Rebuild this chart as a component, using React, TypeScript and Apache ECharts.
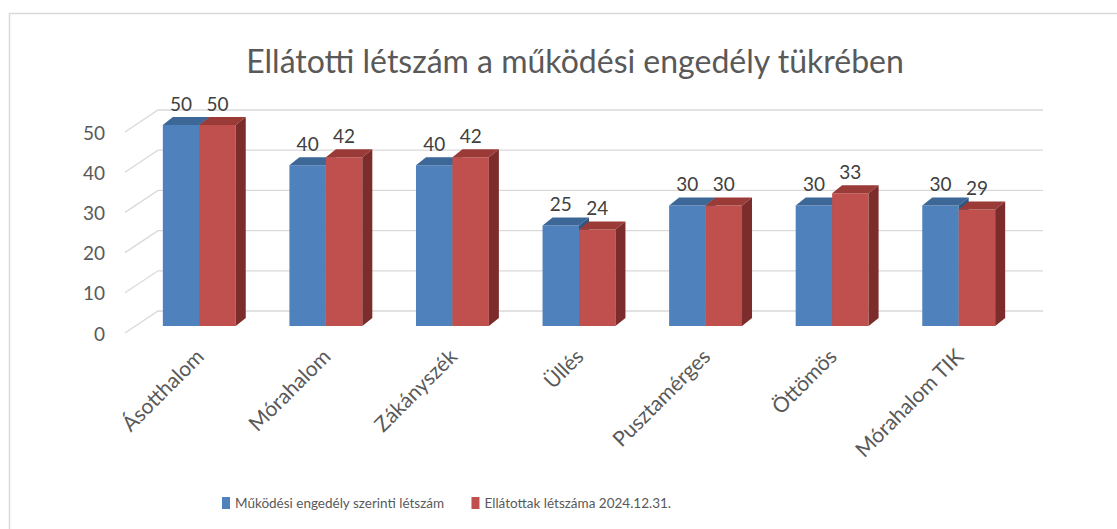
import React, { useEffect, useRef } from "react";
import * as echarts from "echarts";

const categories = ["Ásotthalom", "Mórahalom", "Zákányszék", "Üllés", "Pusztamérges", "Öttömös", "Mórahalom TIK"];
const engedely = [50, 40, 40, 25, 30, 30, 30];
const ellatottak = [50, 42, 42, 24, 30, 33, 29];
const yTicks = [0, 10, 20, 30, 40, 50];
const seriesNames = ["Működési engedély szerinti létszám", "Ellátottak létszáma 2024.12.31."];
const titleText = "Ellátotti létszám a működési engedély tükrében";

const FONT = "Lato, sans-serif";

function barRenderer(side: number, front: string, top: string, sideCol: string) {
  return (params: any, api: any) => {
    const cat = api.value(0);
    const v = api.value(1);
    const pTop = api.coord([cat, v]);
    const pBase = api.coord([cat, 0]);
    const band = api.size([1, 0])[0];
    const bw = band * 0.288;
    const x0 = side === 0 ? pTop[0] - bw : pTop[0];
    const x1 = x0 + bw;
    const yt = pTop[1] - 7;
    const yb = pBase[1] - 7;
    const dx = 10;
    const dy = 8;
    return {
      type: "group",
      children: [
        { type: "rect", shape: { x: x0, y: yt, width: bw, height: yb - yt }, style: { fill: front } },
        {
          type: "polygon",
          shape: { points: [[x0, yt], [x0 + dx, yt - dy], [x1 + dx, yt - dy], [x1, yt]] },
          style: { fill: top },
        },
        {
          type: "polygon",
          shape: { points: [[x1, yt], [x1 + dx, yt - dy], [x1 + dx, yb - dy], [x1, yb]] },
          style: { fill: sideCol },
        },
        {
          type: "text",
          x: (x0 + x1) / 2,
          y: yt - 22,
          style: {
            text: String(v),
            align: "center",
            verticalAlign: "middle",
            fill: "#404040",
            fontSize: 19,
            fontFamily: FONT,
          },
        },
      ],
    };
  };
}

function gridRenderer(params: any, api: any) {
  const cs = params.coordSys;
  const v = api.value(1);
  const p = api.coord([0, v]);
  const y = p[1];
  return {
    type: "polyline",
    shape: { points: [[cs.x - 11, y], [cs.x + 22, y - 22], [1043, y - 22]] },
    style: { stroke: "#d9d9d9", lineWidth: 1.3, fill: "none" },
    silent: true,
  };
}

export default function App() {
  const ref = useRef<HTMLDivElement>(null);
  useEffect(() => {
    document.body.style.margin = "0";
    const chart = echarts.init(ref.current!, null, { renderer: "svg" });
    chart.setOption({
      animation: false,
      backgroundColor: "#ffffff",
      graphic: [
        {
          type: "rect",
          z: -10,
          shape: { x: 9.5, y: 13.5, width: 1200, height: 600 },
          style: { fill: "none", stroke: "#d9d9d9", lineWidth: 1.5 },
        },
        {
          type: "text",
          x: 575,
          y: 60,
          style: {
            text: titleText,
            align: "center",
            verticalAlign: "middle",
            fill: "#595959",
            fontSize: 32,
            fontFamily: FONT,
          },
        },
      ],
      legend: {
        data: seriesNames,
        left: 222,
        top: 496,
        padding: 0,
        icon: "rect",
        itemWidth: 8,
        itemHeight: 12,
        itemGap: 27,
        textStyle: { color: "#595959", fontSize: 13.5, fontFamily: FONT },
      },
      grid: { left: 136, width: 886, top: 132, height: 201 },
      xAxis: {
        type: "category",
        data: categories,
        axisLine: { show: false },
        axisTick: { show: false },
        axisLabel: {
          rotate: 45,
          interval: 0,
          margin: 19,
          color: "#595959",
          fontSize: 21,
          fontFamily: FONT,
        },
      },
      yAxis: {
        type: "value",
        min: 0,
        max: 50,
        interval: 10,
        axisLine: { show: false },
        axisTick: { show: false },
        splitLine: { show: false },
        axisLabel: { margin: 31, color: "#595959", fontSize: 19, fontFamily: FONT },
      },
      series: [
        {
          type: "custom",
          name: "grid",
          silent: true,
          z: 1,
          renderItem: gridRenderer,
          data: yTicks.map((v) => [0, v]),
          encode: { x: 0, y: 1 },
        },
        {
          type: "custom",
          name: seriesNames[0],
          z: 2,
          itemStyle: { color: "#4f81bd" },
          renderItem: barRenderer(0, "#4f81bd", "#3c6797", "#2f5782"),
          data: engedely.map((v, i) => [i, v]),
          encode: { x: 0, y: 1 },
        },
        {
          type: "custom",
          name: seriesNames[1],
          z: 3,
          itemStyle: { color: "#c0504d" },
          renderItem: barRenderer(1, "#c0504d", "#9a3b38", "#7b2c2b"),
          data: ellatottak.map((v, i) => [i, v]),
          encode: { x: 0, y: 1 },
        },
      ],
    });
    return () => chart.dispose();
  }, []);
  return <div ref={ref} style={{ width: 1117, height: 529 }} />;
}
